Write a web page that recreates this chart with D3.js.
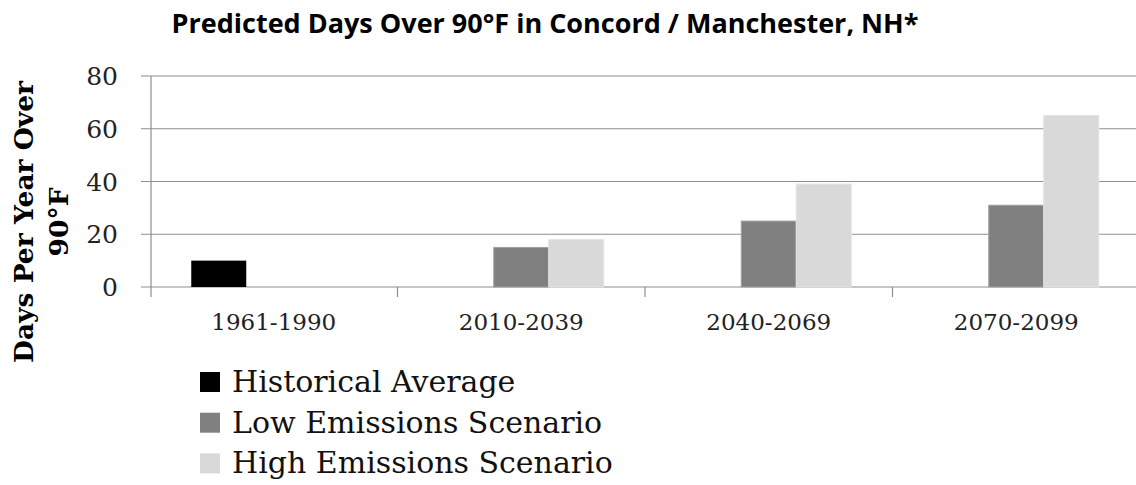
<!DOCTYPE html>
<html>
<head>
<meta charset="utf-8">
<script src="https://cdn.jsdelivr.net/npm/d3@7"></script>
<style>
  body { margin: 0; background: #fff; }
  svg { display: block; }
</style>
</head>
<body>
<div id="chart"></div>
<script>
const periods = ["1961-1990", "2010-2039", "2040-2069", "2070-2099"];
const seriesNames = ["Historical Average", "Low Emissions Scenario", "High Emissions Scenario"];
const historical = [10, 0, 0, 0];
const lowEmissions = [0, 15, 25, 31];
const highEmissions = [0, 18, 39, 65];
const yTicks = [0, 20, 40, 60, 80];
const colors = ["#000000", "#808080", "#d9d9d9"];

const width = 1136, height = 485;
const margin = { top: 76, right: -4, bottom: 198, left: 151 };

let svg = d3.select("#chart").append("svg")
    .attr("width", width)
    .attr("height", height);

let x = d3.scaleBand()
    .domain(periods)
    .range([margin.left - 1, width - margin.right]);

let inner = d3.scaleBand()
    .domain(seriesNames)
    .range([x.bandwidth() / 6, x.bandwidth() * 5 / 6]);

let y = d3.scaleLinear()
    .domain([0, 80])
    .range([height - margin.bottom, margin.top]);

// gridlines (with the little outward ticks)
svg.append("g")
    .selectAll("line")
    .data(yTicks)
    .join("line")
    .attr("x1", margin.left - 10)
    .attr("x2", width)
    .attr("y1", d => y(d))
    .attr("y2", d => y(d))
    .attr("stroke", "#8e8e8e")
    .attr("stroke-width", 1.2);

// y tick labels
svg.append("g")
    .selectAll("text")
    .data(yTicks)
    .join("text")
    .attr("x", 118)
    .attr("y", d => y(d) + 9)
    .attr("text-anchor", "end")
    .style("font-family", "DejaVu Serif")
    .style("font-size", "25px")
    .attr("fill", "#222")
    .text(d => d);

// bars
let rows = periods.map((p, i) => ({
    period: p,
    values: [historical[i], lowEmissions[i], highEmissions[i]]
}));

let groups = svg.append("g")
    .selectAll("g")
    .data(rows)
    .join("g")
    .attr("transform", d => `translate(${x(d.period)},0)`);

groups.selectAll("rect")
    .data(d => d.values.map((v, k) => ({ key: seriesNames[k], value: v, k: k })))
    .join("rect")
    .filter(d => d.value > 0)
    .attr("x", d => inner(d.key))
    .attr("width", inner.bandwidth())
    .attr("y", d => y(d.value))
    .attr("height", d => y(0) - y(d.value))
    .attr("fill", d => colors[d.k])
    .attr("stroke", d => d.k == 1 ? "#a0a0a0" : (d.k == 2 ? "#e4e4e4" : "none"))
    .attr("stroke-width", 1);

// axes lines
svg.append("line")
    .attr("x1", margin.left).attr("x2", margin.left)
    .attr("y1", y(80)).attr("y2", y(0) + 10)
    .attr("stroke", "#8e8e8e").attr("stroke-width", 1.2);

svg.append("g")
    .selectAll("line")
    .data(periods.slice(1))
    .join("line")
    .attr("x1", d => x(d)).attr("x2", d => x(d))
    .attr("y1", y(0)).attr("y2", y(0) + 10)
    .attr("stroke", "#8e8e8e").attr("stroke-width", 1.2);

// x labels
svg.append("g")
    .selectAll("text")
    .data(periods)
    .join("text")
    .attr("x", d => x(d) + x.bandwidth() / 2)
    .attr("y", 330)
    .attr("text-anchor", "middle")
    .style("font-family", "DejaVu Serif")
    .style("font-size", "23px")
    .attr("fill", "#222")
    .text(d => d);

// title
svg.append("text")
    .attr("x", 545)
    .attr("y", 33)
    .attr("text-anchor", "middle")
    .style("font-family", "Open Sans")
    .style("font-weight", "bold")
    .style("font-size", "27px")
    .text("Predicted Days Over 90°F in Concord / Manchester, NH*");

// y axis title, two lines
let ytitle = svg.append("text")
    .attr("transform", "translate(33,222) rotate(-90)")
    .attr("text-anchor", "middle")
    .style("font-family", "DejaVu Serif")
    .style("font-weight", "bold")
    .style("font-size", "26.5px");
ytitle.append("tspan").attr("x", 0).attr("y", 0).text("Days Per Year Over");
ytitle.append("tspan").attr("x", 0).attr("y", 35).text("90°F");

// legend
let legend = svg.append("g")
    .attr("transform", "translate(200,372)");

let items = legend.selectAll("g")
    .data(seriesNames)
    .join("g")
    .attr("transform", (d, i) => `translate(0,${i * 40.7})`);

items.append("rect")
    .attr("width", 20)
    .attr("height", 20)
    .attr("fill", (d, i) => colors[i]);

items.append("text")
    .attr("x", 32)
    .attr("y", 20)
    .style("font-family", "DejaVu Serif")
    .style("font-size", "30px")
    .attr("fill", "#111")
    .text(d => d);
</script>
</body>
</html>
